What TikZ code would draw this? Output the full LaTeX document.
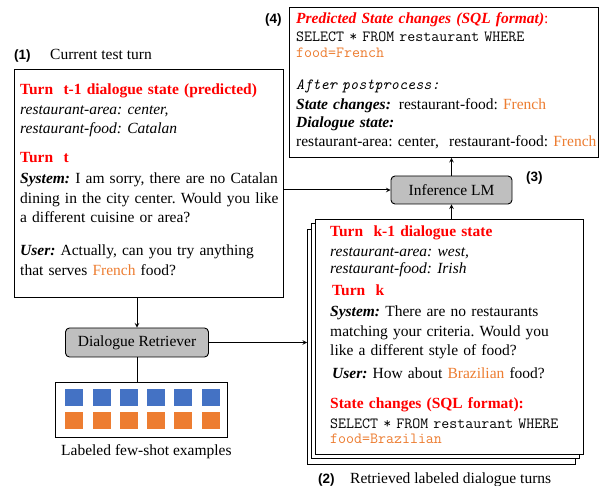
\documentclass[tikz,border=0pt]{standalone}
\usepackage{fontspec}
\setmainfont{Liberation Serif}
\setsansfont{Liberation Sans}
\usepackage{xcolor}
\usetikzlibrary{arrows,positioning,calc}

\definecolor{tred}{RGB}{255,0,0}
\definecolor{torange}{RGB}{237,125,49}
\definecolor{tblue}{RGB}{68,114,196}
\definecolor{tgray}{RGB}{191,191,191}

\newcommand{\redhd}[1]{\textcolor{tred}{\textbf{#1}}}
\newcommand{\slotval}[1]{\textcolor{torange}{#1}}
\newcommand{\spk}[1]{\textbf{\textit{#1}}}
\newcommand{\sqlfont}{\fontsize{15.5}{15}\selectfont\ttfamily}
\frenchspacing

\begin{document}
\begin{tikzpicture}[x=1pt, y=-1pt,
    card/.style={draw, line width=0.9pt, fill=white, anchor=north west, inner sep=0pt},
    txt/.style={anchor=base west, inner sep=0pt, align=left, font=\fontsize{15.5}{19.5}\selectfont},
    module/.style={draw, line width=0.9pt, rounded corners=4pt, fill=tgray, inner sep=0pt, font=\fontsize{15.5}{18}\selectfont},
    arrow/.style={->, >=stealth, line width=1pt},
    tag/.style={anchor=base west, inner sep=0pt, font=\sffamily\bfseries\fontsize{13.5}{16}\selectfont},
    cell/.style={minimum width=18pt, minimum height=17pt, inner sep=0pt, anchor=north west}
]
\useasboundingbox (0,0) rectangle (600,486);

% Current test turn
\node[tag] (t1) at (14,60) {(1)};
\node[txt] (t1lbl) at (50,60) {Current test turn};
\node[card, minimum width=269pt, minimum height=228pt] (cur) at (14,69) {};
\node[txt, text width=262pt] (curtxt) at (20,95) {%
\redhd{Turn\ \ t-1 dialogue state (predicted)}\\
\textit{restaurant-area: center,}\\
\textit{restaurant-food: Catalan}\\[9.5pt]
\redhd{Turn\ \ t}\\[1.5pt]
\spk{System:} I am sorry, there are no Catalan\\
dining in the city center. Would you like\\
a different cuisine or area?\\[13.5pt]
\spk{User:} Actually, can you try anything\\
that serves \slotval{French} food?};

% Retriever and example pool
\node[module, minimum width=143pt, minimum height=29pt] (retr) at (137,342.5) {Dialogue Retriever};
\node[card, minimum width=172pt, minimum height=55pt] (pool) at (55,382) {};
\foreach \i in {0,...,5} {
  \node[cell, fill=tblue] (b\i) at (65+27.3*\i,389) {};
  \node[cell, fill=torange] (o\i) at (65+27.3*\i,412) {};
}
\node[txt] (poollbl) at (61,455) {Labeled few-shot examples};

% Retrieved turns (stack)
\node[card, minimum width=268pt, minimum height=235pt] (back2) at (307,229) {};
\node[card, minimum width=268pt, minimum height=235pt] (back1) at (311,223) {};
\node[card, minimum width=268pt, minimum height=235pt] (ret) at (315,219) {};
\node[txt, text width=250pt] (rettxt) at (330,237) {%
\redhd{Turn\ \ k-1 dialogue state}\\
\textit{restaurant-area: west,}\\[-2pt]
\textit{restaurant-food: Irish}\\[2.5pt]
\hspace{2pt}\redhd{Turn\ \ k}\\[1.5pt]
\spk{System:} There are no restaurants\\
matching your criteria. Would you\\
like a different style of food?\\[3.5pt]
\hspace{2pt}\spk{User:} How about \slotval{Brazilian} food?\\[10.5pt]
\redhd{State changes (SQL format):}\\
{\sqlfont SELECT * FROM restaurant WHERE}\\[-4.5pt]
{\sqlfont\slotval{food=Brazilian}}};
\node[tag] (t2) at (318,483) {(2)};
\node[txt] (t2lbl) at (350,483) {Retrieved labeled dialogue turns};

% Inference LM
\node[module, minimum width=121pt, minimum height=28pt] (lm) at (451.5,190) {Inference LM};
\node[tag] (t3) at (526,182) {(3)};

% Prediction
\node[card, minimum width=309pt, minimum height=150pt] (pred) at (289,7) {};
\node[tag] (t4) at (265,24) {(4)};
\node[txt, text width=305pt] (predtxt) at (296,24) {%
\textcolor{tred}{\textbf{\textit{Predicted State changes (SQL format)}}:}\\[-1.5pt]
{\sqlfont SELECT * FROM restaurant WHERE}\\[-3.5pt]
{\sqlfont\slotval{food=French}}\\[12.5pt]
{\sqlfont\itshape After postprocess:}\\[0.5pt]
\spk{State changes:}\hspace{8pt}restaurant-food: \slotval{French}\\[-1.5pt]
\spk{Dialogue state:}\\[-0.5pt]
restaurant-area: center,\ \ restaurant-food: \slotval{French}};

% Arrows
\draw[arrow] (cur.south -| retr.north) -- (retr.north);
\draw[line width=1pt] (retr.south) -- (retr.south |- pool.north);
\draw[arrow] (retr.east) -- (retr.east -| back2.west);
\draw[arrow] (lm.west -| cur.east) -- (lm.west);
\draw[arrow] (lm.south |- ret.north) -- (lm.south);
\draw[arrow] (lm.north) -- (lm.north |- pred.south);

\end{tikzpicture}
\end{document}
